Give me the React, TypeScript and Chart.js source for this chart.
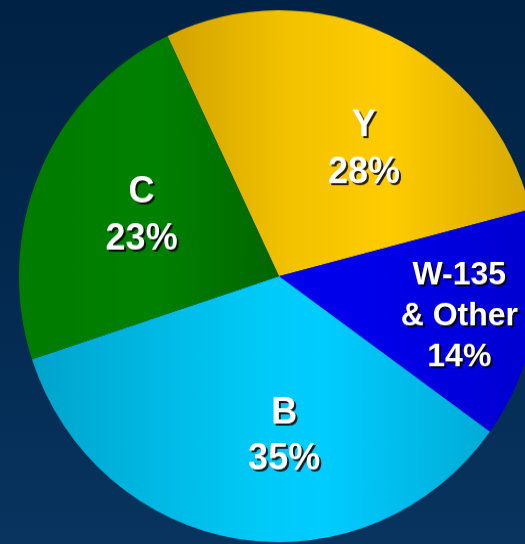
import React, { useEffect, useRef } from "react";
import { Chart, registerables } from "chart.js";

Chart.register(...registerables);

const categories = ["Y", "W-135 & Other", "B", "C"];
const values = [28, 14, 35, 23];
const labelLines = [["Y", "28%"], ["W-135", "& Other", "14%"], ["B", "35%"], ["C", "23%"]];

// gradient stops per slice (position across the canvas width, colour)
const sliceGradients: [number, string][][] = [
  [[0.3, "#d0a000"], [0.55, "#f2c200"], [0.74, "#ffcc00"], [1.0, "#d9aa00"]],
  [[0.7, "#0000ea"], [1.0, "#0000d2"]],
  [[0.06, "#00a4cc"], [0.5, "#00caf8"], [0.62, "#00ccff"], [0.95, "#00aad4"]],
  [[0.04, "#007c00"], [0.3, "#008000"], [0.53, "#006600"]],
];

const labelOffsets = [
  { dx: 19, dy: 17, size: 36, lh: 46 },
  { dx: 27, dy: 10, size: 32, lh: 40 },
  { dx: 29, dy: 2, size: 36, lh: 45 },
  { dx: 6, dy: 3, size: 36, lh: 46 },
];

const Y_STRETCH = 1.023;

const labelPlugin = {
  id: "sliceLabels",
  afterDatasetsDraw(chart: any) {
    const ctx = chart.ctx;
    const meta = chart.getDatasetMeta(0);
    meta.data.forEach((arc: any, i: number) => {
      const mid = (arc.startAngle + arc.endAngle) / 2;
      const r = arc.outerRadius * 0.6;
      const off = labelOffsets[i];
      const cx = arc.x + Math.cos(mid) * r + off.dx;
      const cy = arc.y + Math.sin(mid) * r + off.dy;
      const lines = labelLines[i];
      ctx.save();
      ctx.font = `bold ${off.size}px "Liberation Sans", Arial, sans-serif`;
      ctx.textAlign = "center";
      ctx.textBaseline = "middle";
      const start = cy - ((lines.length - 1) * off.lh) / 2;
      lines.forEach((t, k) => {
        const y = start + k * off.lh;
        ctx.fillStyle = "rgba(0,0,0,0.85)";
        ctx.fillText(t, cx + 2, y + 2);
        ctx.fillStyle = "#ffffff";
        ctx.fillText(t, cx, y);
      });
      ctx.restore();
    });
  },
};

export default function App() {
  const ref = useRef<HTMLCanvasElement>(null);
  useEffect(() => {
    document.body.style.margin = "0";
    const canvas = ref.current!;
    const chart = new Chart(canvas, {
      type: "pie",
      data: {
        labels: categories,
        datasets: [
          {
            data: values,
            borderWidth: 0,
            backgroundColor: (c: any) => {
              const g = c.chart.ctx.createLinearGradient(0, 0, 525, 0);
              const stops = sliceGradients[c.dataIndex] || [[0, "#888"], [1, "#888"]];
              stops.forEach(([p, col]) => g.addColorStop(p, col));
              return g;
            },
          },
        ],
      },
      options: {
        responsive: false,
        animation: false,
        rotation: -25.4,
        layout: { padding: { left: 19, top: 10, right: 21, bottom: 10 } },
        plugins: {
          legend: { display: false },
          tooltip: { enabled: false },
        },
      },
      plugins: [labelPlugin],
    });
    return () => chart.destroy();
  }, []);
  return (
    <div
      style={{
        position: "fixed",
        left: 0,
        top: 0,
        width: 525,
        height: 544,
        overflow: "hidden",
        background: "linear-gradient(to bottom, #002244 0%, #03294f 50%, #08345f 100%)",
      }}
    >
      <canvas
        ref={ref}
        width={560}
        height={540}
        style={{ display: "block", transform: `scaleY(${Y_STRETCH})`, transformOrigin: "0 0" }}
      />
    </div>
  );
}
